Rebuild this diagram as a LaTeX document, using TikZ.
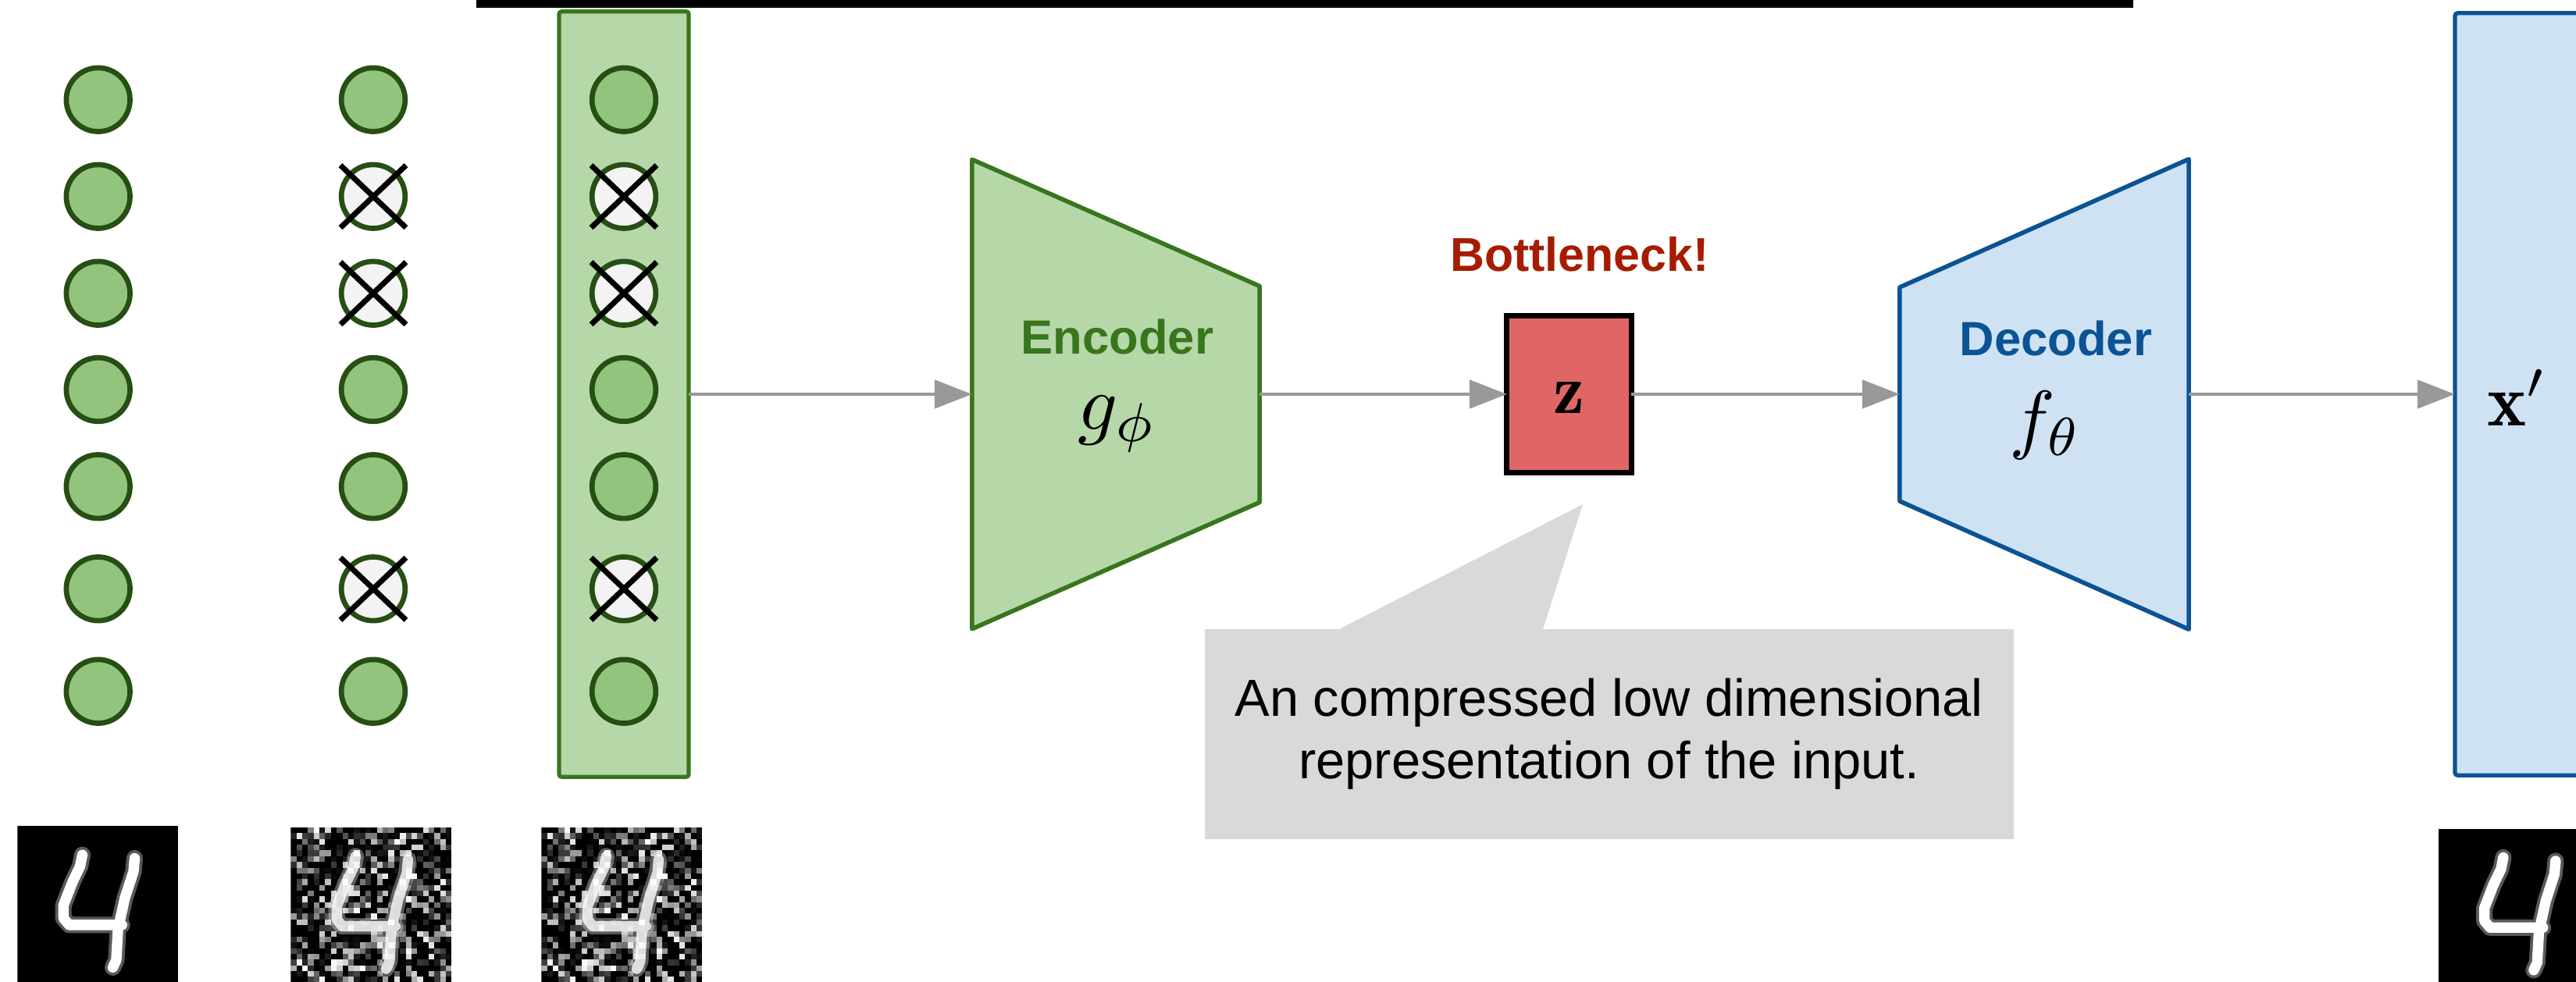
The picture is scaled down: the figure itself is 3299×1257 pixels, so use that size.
\documentclass[tikz,border=0pt]{standalone}
\usepackage{fontspec}
\newfontfamily\arialfont{Liberation Sans}
\usetikzlibrary{arrows.meta,calc}

\definecolor{neuronfill}{HTML}{93C47D}
\definecolor{neurondraw}{HTML}{274E13}
\definecolor{inputfill}{HTML}{B6D7A8}
\definecolor{inputdraw}{HTML}{38761D}
\definecolor{decfill}{HTML}{CFE2F3}
\definecolor{decdraw}{HTML}{0B5394}
\definecolor{zfill}{HTML}{E06666}
\definecolor{notefill}{HTML}{D9D9D9}
\definecolor{flowgray}{HTML}{999999}
\definecolor{alertred}{HTML}{A61C00}
\definecolor{dropfill}{HTML}{F3F3F3}

% handwritten digit "4" on a 28x28 grid
\tikzset{
  fourdigit/.pic={
    \draw[white, opacity=0.35, line width=6pt, line cap=round, line join=round]
      (11.3,5.0) -- (10.9,7.0) -- (9.6,9.7) -- (8.0,13.8) -- (8.0,16.0) -- (9.0,17.2) -- (18.2,17.2)
      (20.4,5.6) -- (20.2,7.9) -- (18.7,12.5) -- (17.5,17.9) -- (17.2,23.3) -- (16.6,24.6);
    \draw[white, line width=3.8pt, line cap=round, line join=round]
      (11.3,5.0) -- (10.9,7.0) -- (9.6,9.7) -- (8.0,13.8) -- (8.0,16.0) -- (9.0,17.2) -- (18.2,17.2)
      (20.4,5.6) -- (20.2,7.9) -- (18.7,12.5) -- (17.5,17.9) -- (17.2,23.3) -- (16.6,24.6);
  }
}

% random grey speckle over a 28x28 grid
\newcommand\speckle{%
  \pgfmathsetseed{4242}%
  \foreach \i in {0,...,27}{%
    \foreach \j in {0,...,27}{%
      \pgfmathsetmacro\g{max(0,rnd-0.3)/0.7}%
      \pgfmathsetmacro\g{\g*\g}%
      \fill[white, opacity=\g] (\i,\j) rectangle ++(1,1);
    }%
  }%
}

\begin{document}
\begin{tikzpicture}[x=0.01cm, y=-0.01cm,
  neuron/.style={circle, fill=neuronfill, draw=neurondraw, line width=1.9pt,
    minimum size=0.816cm, inner sep=0pt, outer sep=0pt},
  dropped/.style={neuron, fill=dropfill},
  cross/.style={line width=2pt, black},
  flow/.style={draw=flowgray, line width=1.4pt, -{Triangle[length=0.48cm, width=0.36cm]}},
  layerbox/.style={rectangle, inner sep=0pt, outer sep=0pt, line width=1.5pt},
  ghost/.style={rectangle, inner sep=0pt, outer sep=0pt},
  sanslabel/.style={font=\arialfont\bfseries\fontsize{17.5}{21}\selectfont, anchor=base},
  mathlabel/.style={anchor=base},
  digitimg/.style={x=0.07357cm, y=-0.07357cm}
]
\useasboundingbox (0,0) rectangle (3299,1257);
\clip (0,0) rectangle (3299,1257);

% bar along the top edge
\fill[black] (610,0) rectangle (2732,10);

% input layer box
\node[layerbox, fill=inputfill, draw=inputdraw, rounded corners=1pt,
  minimum width=1.66cm, minimum height=9.8cm] (inrect) at (799,505) {};

% clean input, noisy input, noisy input fed to the encoder
\foreach \r/\yy in {1/127.7,2/251.7,3/375.7,4/499,5/623.3,6/754.3,7/885.7}{
  \node[neuron] (a-\r) at (125.7,\yy) {};
}
\foreach \r/\yy/\kind in {1/127.7/neuron,2/251.7/dropped,3/375.7/dropped,4/499/neuron,
                          5/623.3/neuron,6/754.3/dropped,7/885.7/neuron}{
  \node[\kind] (b-\r) at (478,\yy) {};
  \node[\kind] (c-\r) at (799,\yy) {};
}
\foreach \r in {2,3,6}{
  \draw[cross] ($(b-\r.center)+(-42,-40)$) -- ($(b-\r.center)+(42,40)$)
               ($(b-\r.center)+(-42,40)$) -- ($(b-\r.center)+(42,-40)$);
  \draw[cross] ($(c-\r.center)+(-42,-40)$) -- ($(c-\r.center)+(42,40)$)
               ($(c-\r.center)+(-42,40)$) -- ($(c-\r.center)+(42,-40)$);
}

% encoder
\node[ghost, minimum width=3.68cm, minimum height=6.01cm] (enc) at (1429,505) {};
\path[draw=inputdraw, fill=inputfill, line width=1.6pt, line join=round]
  (enc.north west) -- ($(enc.east)+(0,-138.5)$) -- ($(enc.east)+(0,138.5)$)
  -- (enc.south west) -- cycle;
\node[sanslabel, text=inputdraw] (enclabel) at (1431,453) {Encoder};
\node[mathlabel] (encfn) at (1431,550) {\scalebox{2.85}{$g_\phi$}};

% bottleneck code
\node[sanslabel, text=alertred, font=\arialfont\bfseries\fontsize{17.3}{21}\selectfont]
  (bottle) at (2023,347) {Bottleneck!};
\node[rectangle, fill=zfill, draw=black, line width=2pt, inner sep=0pt, outer sep=0pt,
  minimum width=1.59cm, minimum height=2.0cm]
  (z) at (2009.5,505) {};
\node[anchor=base] (zlabel) at (2009.5,529) {\scalebox{2.55}{$\mathbf{z}$}};

% explanatory note
\node[rectangle, fill=notefill, inner sep=0pt, outer sep=0pt, anchor=north west,
  minimum width=10.35cm, minimum height=2.69cm, align=center,
  font=\arialfont\fontsize{19}{22.8}\selectfont]
  (note) at (1543,806) {An compressed low dimensional\\representation of the input.};
\fill[notefill] ($(note.north west)+(172,0)$) -- (2027,646) -- ($(note.north west)+(433,0)$) -- cycle;

% decoder
\node[ghost, minimum width=3.70cm, minimum height=6.02cm] (dec) at (2618,505) {};
\path[draw=decdraw, fill=decfill, line width=1.6pt, line join=round]
  ($(dec.west)+(0,-137)$) -- (dec.north east) -- (dec.south east)
  -- ($(dec.west)+(0,137)$) -- cycle;
\node[sanslabel, text=decdraw] (declabel) at (2633,455) {Decoder};
\node[mathlabel] (decfn) at (2620,569) {\scalebox{2.8}{$f_\theta$}};

% reconstruction box
\node[layerbox, fill=decfill, draw=decdraw, rounded corners=1pt,
  minimum width=1.66cm, minimum height=9.76cm] (outrect) at (3227,505) {};
\node[anchor=base] (xlabel) at (3224,545) {\scalebox{2.7}{$\mathbf{x}'$}};

% data flow
\draw[flow] (inrect.east) -- (enc.west);
\draw[flow] (enc.east) -- (z.west);
\draw[flow] (z.east) -- (dec.west);
\draw[flow] (dec.east) -- (outrect.west);

% digit images under the columns
\begin{scope}[shift={(22.3,1058.3)}, digitimg]
  \clip (0,0) rectangle (28,28);
  \fill[black] (0,0) rectangle (28,28);
  \pic {fourdigit};
\end{scope}
\begin{scope}[shift={(372.3,1060)}, digitimg]
  \clip (0,0) rectangle (28,28);
  \fill[black] (0,0) rectangle (28,28);
  \begin{scope}[opacity=0.8]\pic {fourdigit};\end{scope}
  \speckle
\end{scope}
\begin{scope}[shift={(693.3,1060)}, digitimg]
  \clip (0,0) rectangle (28,28);
  \fill[black] (0,0) rectangle (28,28);
  \begin{scope}[opacity=0.8]\pic {fourdigit};\end{scope}
  \speckle
\end{scope}
\begin{scope}[shift={(3122.7,1061.7)}, digitimg]
  \clip (0,0) rectangle (28,28);
  \fill[black] (0,0) rectangle (28,28);
  \pic {fourdigit};
\end{scope}
\end{tikzpicture}
\end{document}
